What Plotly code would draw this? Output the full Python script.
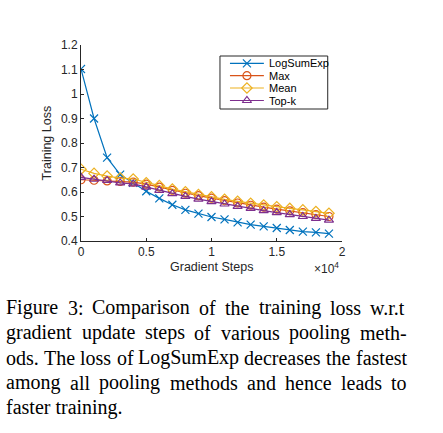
import plotly.graph_objects as go

# ---------------- data ----------------
steps = [0, 1000, 2000, 3000, 4000, 5000, 6000, 7000, 8000, 9000,
         10000, 11000, 12000, 13000, 14000, 15000, 16000, 17000, 18000, 19000]
logsumexp = [1.102, 0.900, 0.740, 0.671, 0.637, 0.603, 0.574, 0.548, 0.527, 0.512,
             0.498, 0.488, 0.476, 0.467, 0.460, 0.453, 0.445, 0.438, 0.435, 0.430]
max_pool = [0.650, 0.648, 0.645, 0.643, 0.640, 0.632, 0.620, 0.607, 0.595, 0.585,
            0.575, 0.565, 0.555, 0.546, 0.538, 0.530, 0.523, 0.516, 0.508, 0.500]
mean_pool = [0.693, 0.676, 0.665, 0.657, 0.653, 0.638, 0.626, 0.612, 0.601, 0.590,
             0.580, 0.570, 0.562, 0.554, 0.547, 0.540, 0.533, 0.527, 0.520, 0.513]
topk_pool = [0.660, 0.652, 0.647, 0.637, 0.633, 0.620, 0.607, 0.593, 0.582, 0.571,
             0.561, 0.551, 0.541, 0.533, 0.524, 0.516, 0.508, 0.500, 0.492, 0.485]

series_names = ["LogSumExp", "Max", "Mean", "Top-k"]
x_tickvals = [0, 5000, 10000, 15000, 20000]
x_ticktext = ["0", "0.5", "1", "1.5", "2"]
y_tickvals = [0.4, 0.5, 0.6, 0.7, 0.8, 0.9, 1.0, 1.1, 1.2]
y_ticktext = ["0.4", "0.5", "0.6", "0.7", "0.8", "0.9", "1", "1.1", "1.2"]

caption_lines = [
    "Figure 3:  Comparison of the training loss w.r.t",
    "gradient update steps of various pooling meth-",
    "ods. The loss of LogSumExp decreases the fastest",
    "among all pooling methods and hence leads to",
    "faster training.",
]

# ---------------- styles / layout ----------------
colors = ["#0072BD", "#D95319", "#EDB120", "#7E2F8E"]
symbols = ["x-thin-open", "circle-open", "diamond-open", "triangle-up-open"]
values = [logsumexp, max_pool, mean_pool, topk_pool]

W, H = 443, 433
# plot area in page pixels
PL, PR, PT, PB = 80.7, 342.3, 45.0, 241.0
PW, PH = PR - PL, PB - PT

def paper(px, py):
    return (px - PL) / PW, (PB - py) / PH

axcol = "#262626"

fig = go.Figure()
for name, vals, color, sym in zip(series_names, values, colors, symbols):
    fig.add_trace(go.Scatter(
        x=steps, y=vals, name=name, mode="lines+markers", showlegend=False,
        line=dict(color=color, width=1.2),
        marker=dict(symbol=sym, size=8, color=color, line=dict(color=color, width=1.2)),
    ))

# manual legend (box, samples, labels)
shapes = []
ann = []
bx0, by1 = paper(220, 56)
bx1, by0 = paper(328, 109)
shapes.append(dict(type="rect", xref="paper", yref="paper", x0=bx0, x1=bx1, y0=by0, y1=by1,
                   line=dict(color=axcol, width=1), fillcolor="white", layer="below"))
rows = [63.3, 75.7, 88.0, 100.5]
for name, color, sym, ry in zip(series_names, colors, symbols, rows):
    sx0, sy = paper(230, ry)
    sx1, _ = paper(264, ry)
    smx, _ = paper(247, ry)
    fig.add_trace(go.Scatter(x=[sx0, sx1], y=[sy, sy], xaxis="x2", yaxis="y2", mode="lines",
                             line=dict(color=color, width=1.2), showlegend=False, hoverinfo="skip"))
    fig.add_trace(go.Scatter(x=[smx], y=[sy], xaxis="x2", yaxis="y2", mode="markers",
                             marker=dict(symbol=sym, size=8, color=color,
                                         line=dict(color=color, width=1.2)),
                             showlegend=False, hoverinfo="skip"))
    tx, _ = paper(268, ry)
    ann.append(dict(x=tx, y=sy, xref="paper", yref="paper", text=name, showarrow=False,
                    xanchor="left", yanchor="middle", borderpad=0,
                    font=dict(family="Liberation Sans", size=11, color="black")))

# axis titles and exponent
xx, yy = paper(211, 267)
ann.append(dict(x=xx, y=yy, xref="paper", yref="paper", text="Gradient Steps",
                xanchor="center", yanchor="middle", borderpad=0,
                showarrow=False, font=dict(family="Liberation Sans", size=12.5, color=axcol)))
xx, yy = paper(47, 143)
ann.append(dict(x=xx, y=yy, xref="paper", yref="paper", text="Training Loss", textangle=-90,
                xanchor="center", yanchor="middle", borderpad=0,
                showarrow=False, font=dict(family="Liberation Sans", size=12.5, color=axcol)))
xx, yy = paper(313, 268)
ann.append(dict(x=xx, y=yy, xref="paper", yref="paper", text="×10<sup>4</sup>",
                xanchor="left", yanchor="middle", borderpad=0,
                showarrow=False, font=dict(family="Liberation Sans", size=12, color=axcol)))

# justified caption (Times metrics, per 1000 em)
TW = {' ': 250, 'a': 444, 'b': 500, 'c': 444, 'd': 500, 'e': 444, 'f': 333, 'g': 500,
      'h': 500, 'i': 278, 'j': 278, 'k': 500, 'l': 278, 'm': 778, 'n': 500, 'o': 500,
      'p': 500, 'q': 500, 'r': 333, 's': 389, 't': 278, 'u': 500, 'v': 500, 'w': 722,
      'x': 500, 'y': 500, 'z': 444, 'C': 667, 'E': 611, 'F': 556, 'L': 611, 'S': 556,
      'T': 611, '3': 500, ':': 278, '.': 250, '-': 333}
FS = 20
X0, X1 = 5.0, 406.0
def wwidth(w):
    return sum(TW.get(c, 500) for c in w) * FS / 1000.0

for i, line in enumerate(caption_lines):
    base = 313.3 + 25 * i
    words = line.split()
    if i == len(caption_lines) - 1:
        positions = [(line, X0)]
    else:
        total = sum(wwidth(w) for w in words)
        gap = (X1 - X0 - total) / (len(words) - 1)
        positions = []
        x = X0
        for w in words:
            positions.append((w, x))
            x += wwidth(w) + gap
    for w, px in positions:
        xx, yy = paper(px, base)
        ann.append(dict(x=xx, y=yy, xref="paper", yref="paper", text=w, showarrow=False,
                        xanchor="left", yanchor="bottom", yshift=-7, borderpad=0,
                        font=dict(family="Liberation Serif", size=FS, color="black")))

fig.update_layout(
    width=W, height=H,
    margin=dict(l=PL, r=W - PR, t=PT, b=H - PB, pad=0),
    paper_bgcolor="white", plot_bgcolor="white",
    showlegend=False,
    shapes=shapes,
    annotations=ann,
    xaxis=dict(range=[0, 20000], tickvals=x_tickvals, ticktext=x_ticktext,
               showgrid=False, zeroline=False, showline=True, linecolor=axcol, linewidth=1,
               ticks="inside", ticklen=3, tickcolor=axcol, automargin=False,
               tickfont=dict(family="Liberation Sans", size=12, color=axcol)),
    yaxis=dict(range=[0.4, 1.2], tickvals=y_tickvals, ticktext=y_ticktext,
               showgrid=False, zeroline=False, showline=True, linecolor=axcol, linewidth=1,
               ticks="inside", ticklen=3, tickcolor=axcol, automargin=False,
               tickfont=dict(family="Liberation Sans", size=12, color=axcol)),
    xaxis2=dict(range=[0, 1], overlaying="x", visible=False),
    yaxis2=dict(range=[0, 1], overlaying="y", visible=False),
)
fig.write_html("out.html", config={"displayModeBar": False},
               post_script="document.body.style.margin='0';")
